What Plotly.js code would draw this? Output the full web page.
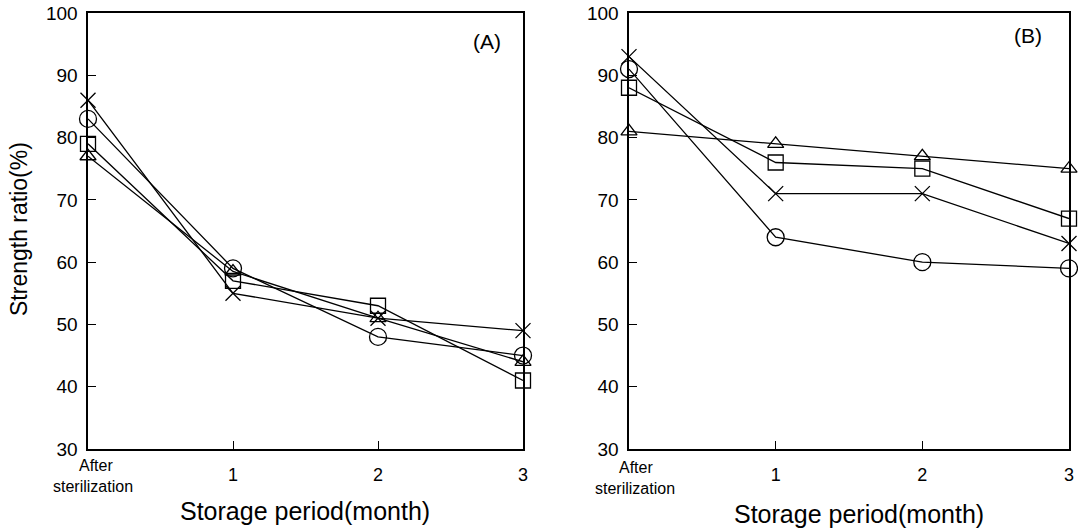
<!DOCTYPE html>
<html>
<head>
<meta charset="utf-8">
<script src="https://cdn.plot.ly/plotly-3.0.1.min.js"></script>
<style>html,body{margin:0;padding:0;background:#fff;}#chart{width:1078px;height:530px;}</style>
</head>
<body>
<div id="chart"></div>
<script>
// Data
const months = [0, 1, 2, 3];
const xTickVals = [1, 2, 3];
const xTickText = ['1', '2', '3'];
const firstLabel = ['After', 'sterilization'];
const yTickVals = [30, 40, 50, 60, 70, 80, 90, 100];
const panelLabels = ['(A)', '(B)'];
const xTitle = 'Storage period(month)';
const yTitle = 'Strength ratio(%)';

const A_cross    = [86, 55, 51, 49];
const A_circle   = [83, 59, 48, 45];
const A_square   = [79, 57, 53, 41];
const A_triangle = [77, 58.5, 51, 44];

const B_cross    = [93, 71, 71, 63];
const B_circle   = [91, 64, 60, 59];
const B_square   = [88, 76, 75, 67];
const B_triangle = [81, 79, 77, 75];

const FONT = 'Liberation Sans, Arial, sans-serif';
const W = 1078, H = 530;
const px = x => x / W;
const py = y => 1 - y / H;

const symbols = {
  cross: {symbol: 'x-thin-open', size: 15},
  circle: {symbol: 'circle-open', size: 17},
  square: {symbol: 'square-open', size: 15},
  triangle: {symbol: 'triangle-up-open', size: 14}
};

function tr(y, kind, ax) {
  return {
    x: months, y: y, type: 'scatter', mode: 'lines+markers',
    xaxis: ax === 1 ? 'x' : 'x2', yaxis: ax === 1 ? 'y' : 'y2',
    line: {color: 'black', width: 1.3},
    marker: {symbol: symbols[kind].symbol, size: symbols[kind].size, color: 'black',
             line: {color: 'black', width: 1.3}},
    cliponaxis: false, showlegend: false, hoverinfo: 'x+y'
  };
}

const data = [
  tr(A_triangle, 'triangle', 1), tr(A_square, 'square', 1), tr(A_circle, 'circle', 1), tr(A_cross, 'cross', 1),
  tr(B_triangle, 'triangle', 2), tr(B_square, 'square', 2), tr(B_circle, 'circle', 2), tr(B_cross, 'cross', 2)
];

function xaxis(dom) {
  return {domain: dom, range: [0, 3], tickvals: xTickVals, ticktext: xTickText,
    ticks: 'inside', ticklen: 8, tickwidth: 1, tickcolor: 'black',
    ticklabelstandoff: 9,
    showline: true, linecolor: 'black', linewidth: 1.6, mirror: true,
    showgrid: false, zeroline: false, fixedrange: true,
    tickfont: {family: FONT, size: 18, color: 'black'}};
}
function yaxis(dom) {
  return {domain: dom, range: [30, 100], tickvals: yTickVals,
    ticks: 'inside', ticklen: 8, tickwidth: 1, tickcolor: 'black',
    ticklabelstandoff: 5,
    showline: true, linecolor: 'black', linewidth: 1.6, mirror: true,
    showgrid: false, zeroline: false, fixedrange: true,
    tickfont: {family: FONT, size: 19, color: 'black'}};
}

const yDom = [py(449), py(13)];

function ann(text, x, y, size, extra) {
  return Object.assign({text: text, x: px(x), y: py(y), xref: 'paper', yref: 'paper',
    xanchor: 'center', yanchor: 'middle', showarrow: false,
    font: {family: FONT, size: size, color: 'black'}}, extra || {});
}

const annotations = [
  ann(panelLabels[0], 487, 42, 21),
  ann(panelLabels[1], 1028, 36, 21),
  ann(firstLabel[0], 77, 465, 16, {xanchor: 'left'}),
  ann(firstLabel[1], 51, 486, 16, {xanchor: 'left'}),
  ann(firstLabel[0], 617, 467, 16, {xanchor: 'left'}),
  ann(firstLabel[1], 593, 488, 16, {xanchor: 'left'}),
  ann(xTitle, 305, 511, 25),
  ann(xTitle, 859, 514, 25),
  ann(yTitle, 19, 229, 23, {textangle: -90})
];

const layout = {
  width: W, height: H,
  margin: {l: 0, r: 0, t: 0, b: 0, autoexpand: false},
  paper_bgcolor: 'white', plot_bgcolor: 'white',
  showlegend: false,
  xaxis: Object.assign(xaxis([px(88), px(523)]), {anchor: 'y'}),
  yaxis: Object.assign(yaxis(yDom), {anchor: 'x'}),
  xaxis2: Object.assign(xaxis([px(629), px(1069)]), {anchor: 'y2'}),
  yaxis2: Object.assign(yaxis(yDom), {anchor: 'x2'}),
  annotations: annotations
};

Plotly.newPlot('chart', data, layout, {staticPlot: true, displayModeBar: false});
</script>
</body>
</html>
